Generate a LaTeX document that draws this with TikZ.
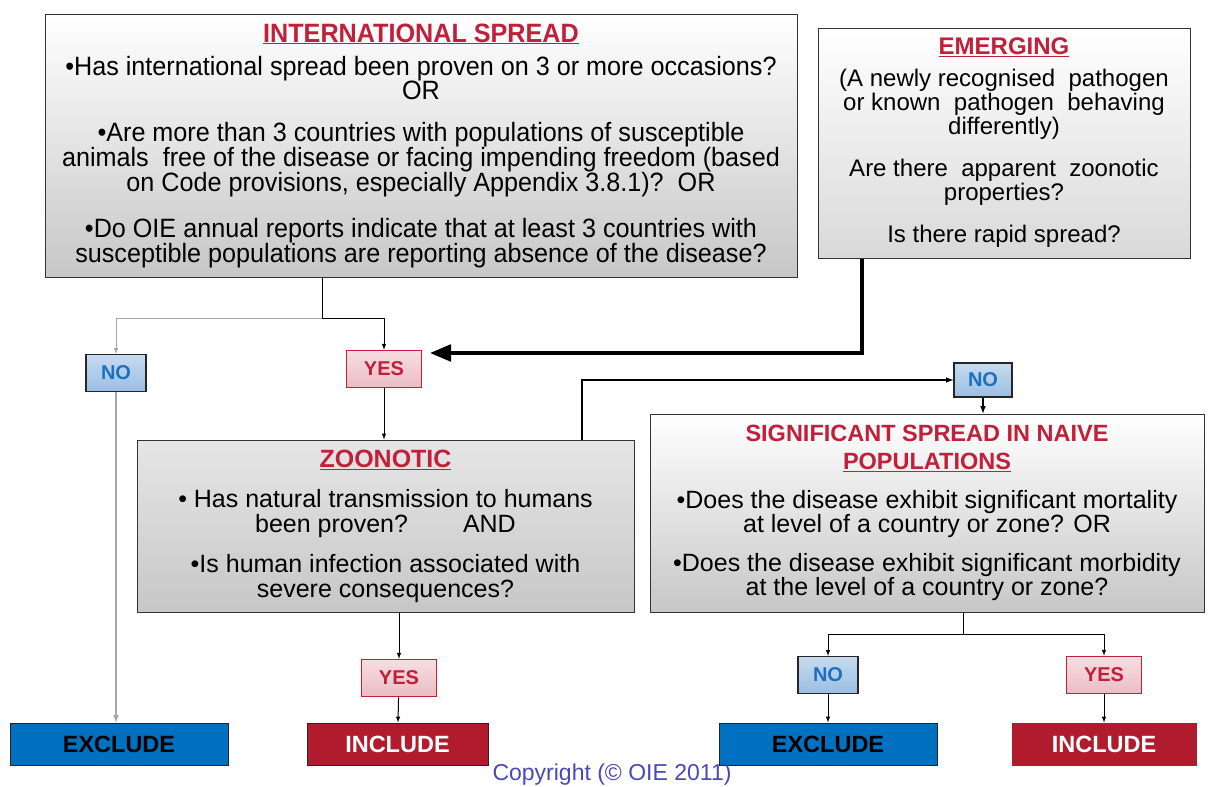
\documentclass[tikz,border=0pt]{standalone}
\usepackage{fontspec}
\setmainfont{Liberation Sans}
\newfontfamily\narrowfont[FakeStretch=0.95]{Liberation Sans}
\usepackage{tikz}
\usetikzlibrary{arrows,shapes,calc,positioning}
\definecolor{titlered}{HTML}{C0203A}
\definecolor{noblue}{HTML}{1F6FBF}
\definecolor{exclblue}{HTML}{0070C0}
\definecolor{inclred}{HTML}{B01C2E}
\definecolor{copyblue}{HTML}{4848B8}

\begin{document}
\begin{tikzpicture}[x=1pt,y=-1pt,>=latex]

\tikzset{qbox/.style={
  rectangle,
  inner sep=0pt,
  align=center,
  draw=black!80, line width=1pt,
  top color=white, bottom color=black!22
  },
  nobox/.style={
  rectangle, draw=black!85, line width=1.2pt,
  top color=noblue!25, bottom color=noblue!45,
  minimum width=60, minimum height=37,
  font=\fontsize{20}{20}\selectfont\bfseries, text=noblue
  },
  yesbox/.style={
  rectangle, draw=titlered, line width=1.5pt,
  top color=titlered!15, bottom color=titlered!30,
  minimum width=75, minimum height=37,
  font=\fontsize{20}{20}\selectfont\bfseries, text=titlered
  },
  outbox/.style={
  rectangle, draw=black!85, line width=1pt,
  minimum height=42,
  font=\fontsize{23.5}{23.5}\selectfont\bfseries
  }}

\useasboundingbox (0,0) rectangle (1208,787);

% question boxes
\node[qbox, minimum width=752, minimum height=263,
  font=\narrowfont\fontsize{26.5}{25}\selectfont] (intl) at (421,145.5) {%
  {\color{titlered}\underline{\textbf{INTERNATIONAL SPREAD}}}\\[8pt]
  •Has international spread been proven on 3 or more occasions?\\[-1pt]
  OR\\[17pt]
  •Are more than 3 countries with populations of susceptible\\
  animals\ \ free of the disease or facing impending freedom (based\\
  on Code provisions, especially Appendix 3.8.1)?\ \ OR\\[21pt]
  •Do OIE annual reports indicate that at least 3 countries with\\
  susceptible populations are reporting absence of the disease?};
\node[qbox, minimum width=372, minimum height=230, bottom color=black!15,
  font=\fontsize{24}{24}\selectfont] (emerg) at (1004,143) {%
  {\color{titlered}\underline{\textbf{EMERGING}}}\\[8pt]
  (A newly recognised\ \ pathogen\\
  or known\ \ pathogen\ \ behaving\\
  differently)\\[18pt]
  Are there\ \ apparent\ \ zoonotic\\
  properties?\\[18pt]
  Is there rapid spread?};
\node[qbox, minimum width=497, minimum height=172, top color=black!10,
  font=\fontsize{25}{25}\selectfont] (zoon) at (385.5,526) {%
  {\color{titlered}\underline{\textbf{ZOONOTIC}}}\\[15pt]
  • Has natural transmission to humans\\
  been proven?\hspace{2.2em}AND\\[15pt]
  •Is human infection associated with\\
  severe consequences?};
\node[qbox, minimum width=554, minimum height=198,
  font=\fontsize{25}{24}\selectfont] (sig) at (927,513) {%
  {\color{titlered}\fontsize{23.5}{24}\selectfont\textbf{SIGNIFICANT SPREAD IN NAIVE}}\\[4pt]
  {\color{titlered}\fontsize{23.5}{24}\selectfont\underline{\textbf{POPULATIONS}}}\\[15pt]
  •Does the disease exhibit significant mortality\\
  at level of a country or zone? OR\\[15pt]
  •Does the disease exhibit significant morbidity\\
  at the level of a country or zone?};

% answers
\node[nobox] (no1) at (116,373) {NO};
\node[yesbox] (yes1) at (384,369) {YES};
\node[nobox, minimum width=58, minimum height=34] (no2) at (983,380) {NO};
\node[yesbox] (yes2) at (399,678) {YES};
\node[nobox] (no3) at (828,675) {NO};
\node[yesbox] (yes3) at (1104,675) {YES};

% outcomes
\node[outbox, fill=exclblue, minimum width=218] (excl1) at (119,744) {EXCLUDE};
\node[outbox, fill=inclred, text=white, minimum width=181] (incl1) at (397.5,744) {INCLUDE};
\node[outbox, fill=exclblue, minimum width=218] (excl2) at (828,744) {EXCLUDE};
\node[outbox, fill=inclred, draw=inclred, text=white, minimum width=184] (incl2) at (1104,744) {INCLUDE};

\node[text=copyblue, font=\fontsize{23}{23}\selectfont] (copy) at (612,775) {Copyright (© OIE 2011)};

% connectors
\coordinate (split1) at (322,318);
\coordinate (emturn) at (862,353);
\coordinate (zturn) at (582,382);
\coordinate (split3) at (963,634);

\path[draw,line width=1pt] (intl.south -| split1) -- (split1);
\path[draw,->,line width=1pt,black!35] (split1) -| (no1.north);
\path[draw,->,line width=1pt] (split1) -| (yes1.north);
\path[draw,->,line width=4pt,>=triangle 45] (emerg.south -| emturn) -- (emturn)
  -- ([xshift=8pt]yes1.east |- emturn);
\path[draw,->,line width=1pt] (yes1) -- (yes1 |- zoon.north);
\path[draw,->,line width=1.5pt,black!35] (no1) -- (no1 |- excl1.north);
\path[draw,->,line width=1.5pt] (zoon.north -| zturn) |- (no2.west);
\path[draw,->,line width=1.5pt] (no2) -- (no2 |- sig.north);
\path[draw,->,line width=1pt] (zoon.south -| yes2) -- (yes2);
\path[draw,->,line width=1pt] (yes2) -- (incl1);
\path[draw,line width=1pt] (sig.south -| split3) -- (split3);
\path[draw,->,line width=1pt] (split3) -| (no3.north);
\path[draw,->,line width=1pt] (split3) -| (yes3.north);
\path[draw,->,line width=1pt] (no3) -- (excl2);
\path[draw,->,line width=1pt] (yes3) -- (incl2);
\end{tikzpicture}
\end{document}
